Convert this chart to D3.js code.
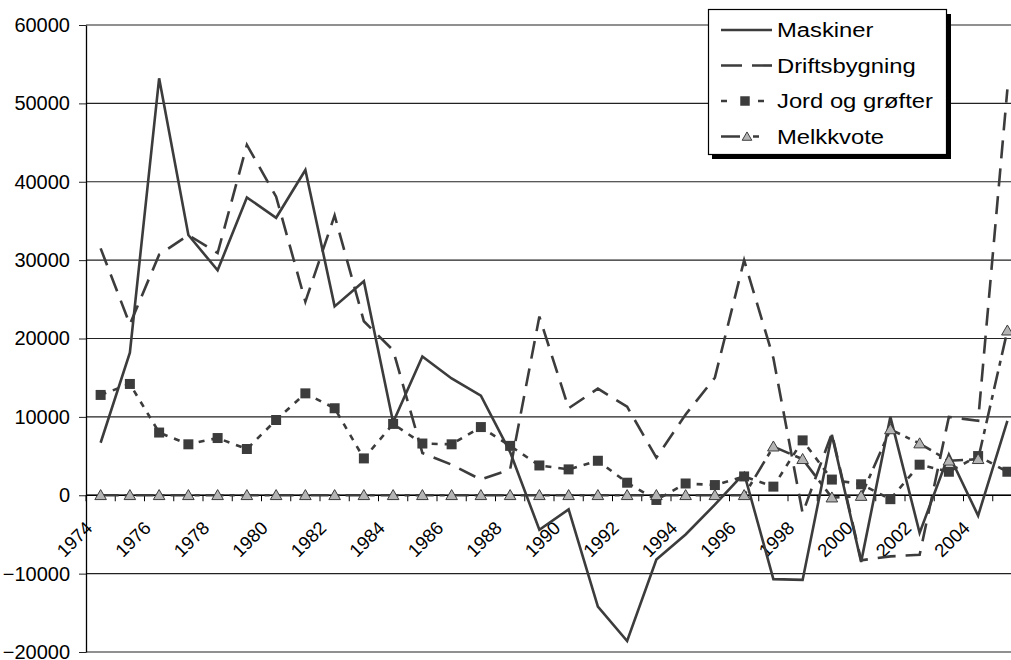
<!DOCTYPE html>
<html>
<head>
<meta charset="utf-8">
<script src="https://cdn.jsdelivr.net/npm/d3@7/dist/d3.min.js"></script>
<style>
body{margin:0;background:#fff;}
text{font-family:"Liberation Sans",Arial,sans-serif;fill:#000;}
</style>
</head>
<body>
<div id="chart"></div>
<script>
var years = [1974,1975,1976,1977,1978,1979,1980,1981,1982,1983,1984,1985,1986,1987,1988,1989,
             1990,1991,1992,1993,1994,1995,1996,1997,1998,1999,2000,2001,2002,2003,2004,2005];
var maskiner = [6700,18200,53200,33200,28700,38000,35400,41500,24100,27300,9300,17700,14900,12700,5500,-4400,
                -1800,-14200,-18600,-8200,-5000,-1200,2800,-10700,-10800,7700,-8500,10000,-4800,5200,-2600,9500];
var driftsbygning = [31500,21800,30700,33200,30900,44700,38100,24700,35700,22200,18500,5400,3900,2000,3300,22800,
                     11100,13600,11300,4800,10300,15000,30000,17500,-2300,7900,-8300,-7800,-7600,10000,9500,51800];
var jord = [12800,14200,8000,6500,7300,5900,9600,13000,11100,4700,9100,6600,6500,8700,6300,3800,
            3300,4400,1600,-600,1500,1300,2400,1100,7000,2000,1400,-500,3900,3000,5000,3000];
var melkkvote = [0,0,0,0,0,0,0,0,0,0,0,0,0,0,0,0,
                 0,0,0,0,0,0,0,6200,4600,-300,-100,8400,6600,4400,4600,21000];
var yTicks = [-20000,-10000,0,10000,20000,30000,40000,50000,60000];
var yearLabels = [1974,1976,1978,1980,1982,1984,1986,1988,1990,1992,1994,1996,1998,2000,2002,2004];
var seriesNames = ["Maskiner","Driftsbygning","Jord og grøfter","Melkkvote"];

var Chart = (function(){
    function Chart(target){
        this.canvas = target;
        this.width = 1011;
        this.height = 660;
        this.ink = "#3c3c3c";
        this.init();
    }
    return Chart;
})();

var ch = Chart.prototype;

ch.init = function(){
    this.svg = d3.select(this.canvas)
    .append("svg")
    .attr("width",this.width)
    .attr("height",this.height)
    .style("display","block");
    this.x = d3.scaleBand().domain(years).range([86, 86 + years.length*29.25]);
    this.y = d3.scaleLinear().domain([-20000,60000]).range([652,25]);
    this.setGrid();
    this.setAxes();
    this.setSeries();
    this.setLegend();
}

ch.cx = function(yr){
    return this.x(yr) + this.x.bandwidth()/2;
}

ch.setGrid = function(){
    var y = this.y, right = this.x.range()[1];
    this.svg.append("g").attr("class","grid")
    .selectAll("line").data(yTicks).enter().append("line")
    .attr("x1",86).attr("x2",right)
    .attr("y1",function(d){ return y(d); })
    .attr("y2",function(d){ return y(d); })
    .attr("stroke","#222").attr("stroke-width",1.1);
}

ch.setAxes = function(){
    var y = this.y, x = this.x, c = this;
    var ya = this.svg.append("g").attr("transform","translate(86,0)")
    .call(d3.axisLeft(y).tickValues(yTicks).tickSizeInner(7).tickSizeOuter(0).tickPadding(9)
        .tickFormat(d3.format("d")));
    ya.select(".domain").attr("stroke","#000").attr("stroke-width",1.3);
    ya.selectAll(".tick line").attr("stroke","#222");
    ya.selectAll(".tick text").attr("font-size","20px").attr("font-family","Liberation Sans, Arial, sans-serif")
    .attr("fill","#000").attr("dy","0.32em");

    var y0 = y(0);
    var g = this.svg.append("g").attr("class","x-axis");
    var bounds = years.map(function(d){ return x(d); }).concat([x.range()[1]]);
    g.selectAll("line.tk").data(bounds).enter().append("line")
    .attr("class","tk")
    .attr("x1",function(d){ return d; }).attr("x2",function(d){ return d; })
    .attr("y1",y0).attr("y2",y0+6)
    .attr("stroke","#000").attr("stroke-width",1);
    g.append("line").attr("x1",86).attr("x2",x.range()[1])
    .attr("y1",y0).attr("y2",y0).attr("stroke","#000").attr("stroke-width",1.3);
    g.selectAll("text").data(yearLabels).enter().append("text")
    .attr("transform",function(d){ return "translate(" + (c.cx(d)-7) + "," + (y0+34) + ") rotate(-45)"; })
    .attr("text-anchor","end")
    .attr("font-size","18.5px")
    .text(function(d){ return d; });
}

ch.setSeries = function(){
    var c = this;
    var sets = [
        {name:seriesNames[0], values:maskiner, dash:null},
        {name:seriesNames[1], values:driftsbygning, dash:"18,10"},
        {name:seriesNames[2], values:jord, dash:"6,7", marker:"square"},
        {name:seriesNames[3], values:melkkvote, dash:"18,6,5,6", marker:"triangle"}
    ];
    var g = this.svg.append("g").attr("class","series");
    sets.forEach(function(s){
        var pts = years.map(function(yr,i){ return {year:yr, v:s.values[i]}; });
        c.drawLine(g,pts,s.dash);
        if(s.marker) c.drawMarkers(g,pts,s.marker);
    });
}

ch.drawLine = function(g,pts,dash){
    var c = this;
    var lineFunction = d3.line()
    .x(function(d){ return c.cx(d.year); })
    .y(function(d){ return c.y(d.v); });
    g.append("path")
    .attr("d",lineFunction(pts))
    .attr("fill","none")
    .attr("stroke",this.ink)
    .attr("stroke-width",2.6)
    .attr("stroke-linejoin","miter")
    .attr("stroke-dasharray",dash);
}

ch.drawMarkers = function(g,pts,kind){
    var c = this;
    var sym = kind == "square" ? d3.symbol(d3.symbolSquare,100) : d3.symbol(d3.symbolTriangle,58);
    g.selectAll("path." + kind).data(pts).enter().append("path")
    .attr("class",kind)
    .attr("d",sym)
    .attr("transform",function(d){ return "translate(" + c.cx(d.year) + "," + (c.y(d.v) + (kind=="triangle"?1:0)) + ")"; })
    .attr("fill",kind == "square" ? this.ink : "#b4b4b4")
    .attr("stroke",kind == "square" ? "none" : this.ink)
    .attr("stroke-width",1);
}

ch.setLegend = function(){
    var ink = this.ink;
    var g = this.svg.append("g").attr("class","legend");
    g.append("rect").attr("x",712).attr("y",14).attr("width",239).attr("height",145).attr("fill","#000");
    g.append("rect").attr("x",708.5).attr("y",9.5).attr("width",238).attr("height",145)
    .attr("fill","#fff").attr("stroke","#000").attr("stroke-width",1.2);
    var rows = [30,65.5,101,136.5];

    g.append("line").attr("x1",721).attr("x2",772).attr("y1",rows[0]).attr("y2",rows[0])
    .attr("stroke",ink).attr("stroke-width",2.6);
    g.append("line").attr("x1",721).attr("x2",772).attr("y1",rows[1]).attr("y2",rows[1])
    .attr("stroke",ink).attr("stroke-width",2.6).attr("stroke-dasharray","21,10");
    g.append("line").attr("x1",721).attr("x2",764).attr("y1",rows[2]).attr("y2",rows[2])
    .attr("stroke",ink).attr("stroke-width",2.6).attr("stroke-dasharray","6,31,6");
    g.append("path").attr("d",d3.symbol(d3.symbolSquare,90)).attr("transform","translate(745," + rows[2] + ")")
    .attr("fill",ink);
    g.append("line").attr("x1",721).attr("x2",759).attr("y1",rows[3]).attr("y2",rows[3])
    .attr("stroke",ink).attr("stroke-width",2.6).attr("stroke-dasharray","19,13,6");
    g.append("path").attr("d",d3.symbol(d3.symbolTriangle,40)).attr("transform","translate(747," + (rows[3]+1) + ")")
    .attr("fill","#b4b4b4").attr("stroke",ink).attr("stroke-width",1);

    g.selectAll("text").data(seriesNames).enter().append("text")
    .attr("transform",function(d,i){ return "translate(777," + rows[i] + ") scale(1.19,1)"; })
    .attr("dy","0.36em")
    .attr("font-size","20px")
    .text(function(d){ return d; });
}

new Chart("#chart");
</script>
</body>
</html>
